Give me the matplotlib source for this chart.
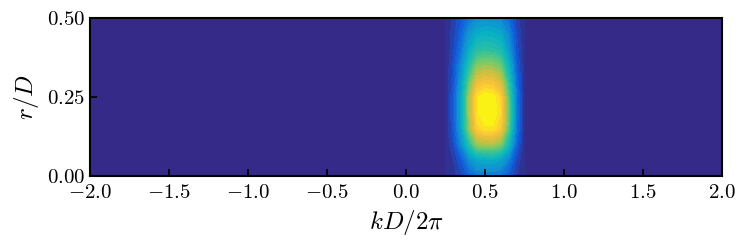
import matplotlib
matplotlib.use('Agg')
import matplotlib.pyplot as plt
import numpy as np
from matplotlib.colors import LinearSegmentedColormap

plt.rcParams['font.family'] = 'serif'
plt.rcParams['font.serif'] = ['cmr10']
plt.rcParams['mathtext.fontset'] = 'cm'
plt.rcParams['axes.formatter.use_mathtext'] = True

## data: amplitude over wavenumber kD/2pi and radius r/D
k_vals = [-2.0, 0.20, 0.25, 0.30, 0.35, 0.40, 0.45, 0.50, 0.55, 0.60, 0.65, 0.70, 0.75, 0.80, 2.0]
r_vals = [0.00, 0.05, 0.10, 0.15, 0.20, 0.25, 0.30, 0.35, 0.40, 0.45, 0.50]
amp = [
    [0, 0, 0, .02, .07, .14, .19, .20, .20, .18, .12, .04, 0, 0, 0],
    [0, 0, 0, .04, .12, .25, .33, .35, .35, .32, .21, .07, 0, 0, 0],
    [0, 0, 0, .08, .25, .49, .67, .70, .70, .64, .42, .14, 0, 0, 0],
    [0, 0, 0, .11, .33, .67, .90, .95, .95, .87, .57, .19, 0, 0, 0],
    [0, 0, 0, .12, .35, .70, .95, 1.0, 1.0, .92, .60, .20, 0, 0, 0],
    [0, 0, 0, .12, .35, .70, .95, 1.0, .99, .90, .58, .19, 0, 0, 0],
    [0, 0, 0, .10, .30, .60, .81, .85, .84, .76, .49, .16, 0, 0, 0],
    [0, 0, 0, .09, .25, .48, .65, .68, .67, .61, .39, .13, 0, 0, 0],
    [0, 0, 0, .07, .19, .36, .48, .50, .49, .45, .29, .10, 0, 0, 0],
    [0, 0, 0, .06, .15, .28, .36, .38, .37, .34, .23, .08, 0, 0, 0],
    [0, 0, 0, .05, .11, .19, .24, .25, .25, .23, .16, .06, 0, 0, 0],
]

## parula-like colormap
parula = LinearSegmentedColormap.from_list('parula', [
    (0.000, (0.2081, 0.1663, 0.5292)),
    (0.125, (0.0590, 0.3598, 0.8683)),
    (0.250, (0.0641, 0.5571, 0.8240)),
    (0.375, (0.0257, 0.6941, 0.7719)),
    (0.500, (0.1600, 0.7500, 0.6400)),
    (0.625, (0.4420, 0.7950, 0.4210)),
    (0.750, (0.8000, 0.7500, 0.2500)),
    (0.875, (0.9900, 0.7600, 0.2300)),
    (1.000, (0.9763, 0.9831, 0.0538)),
])

K, R = np.meshgrid(k_vals, r_vals)
Z = np.array(amp)

fig = plt.figure(figsize=(7.47, 2.48), dpi=100)
ax = fig.add_axes([0.1205, 0.29, 0.846, 0.637])
ax.contourf(K, R, Z, levels=np.linspace(0, 1.0, 26), cmap=parula, extend='both')

ax.set_xlim(-2, 2)
ax.set_ylim(0, 0.5)
ax.set_xticks(np.arange(-2, 2.01, 0.5))
ax.set_yticks([0, 0.25, 0.5])
ax.set_yticklabels(['$\\mathdefault{0.00}$', '$\\mathdefault{0.25}$', '$\\mathdefault{0.50}$'])
ax.tick_params(direction='in', length=5, width=1.2, labelsize=15, top=False, right=False)
ax.tick_params(axis='x', pad=6)
for s in ax.spines.values():
    s.set_linewidth(1.5)
ax.set_xlabel('$kD/2\\pi$', fontsize=18, labelpad=4)
ax.set_ylabel('$r/D$', fontsize=18, labelpad=4)

fig.savefig('out.png', dpi=100)
